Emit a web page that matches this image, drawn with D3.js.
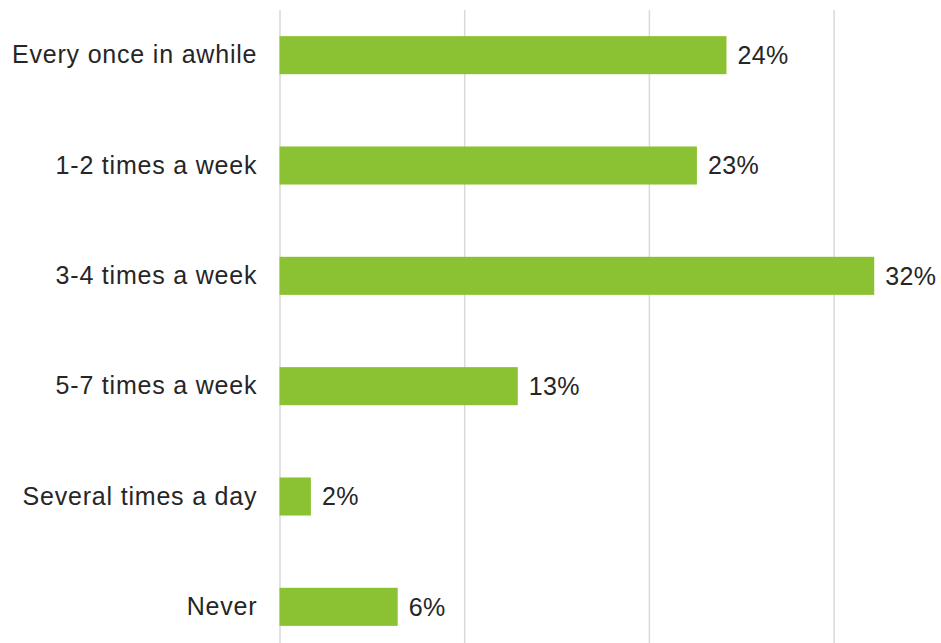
<!DOCTYPE html>
<html>
<head>
<meta charset="utf-8">
<script src="https://cdn.jsdelivr.net/npm/d3@7"></script>
<style>
  html, body { margin: 0; padding: 0; background: #ffffff; }
  svg { display: block; }
</style>
</head>
<body>
<svg id="chart" width="941" height="643"></svg>
<script>
const categories = ["Every once in awhile", "1-2 times a week", "3-4 times a week", "5-7 times a week", "Several times a day", "Never"];
const values = [24.2, 22.6, 32.2, 12.9, 1.7, 6.4];
const valueLabels = ["24%", "23%", "32%", "13%", "2%", "6%"];
const gridTicks = [0, 10, 20, 30];

const svg = d3.select("#chart");
const W = 941, H = 643;
const fontFamily = "'Liberation Sans', Arial, sans-serif";

const x = d3.scaleLinear().domain([0, 40]).range([279.5, 279.5 + 4 * 184.7]);
const y = d3.scaleBand().domain(categories).range([0, 662]).paddingInner(0.655).paddingOuter(0.3275);

// gridlines
const gridTop = 10;
const grid = svg.append("g")
  .attr("transform", `translate(0,${H})`)
  .call(d3.axisBottom(x).tickValues(gridTicks).tickSize(-(H - gridTop)).tickFormat(""));
grid.select(".domain").remove();
grid.selectAll(".tick line").attr("stroke", "#d9d9d9").attr("stroke-width", 1.5);

// bars
svg.append("g").selectAll("rect")
  .data(values)
  .join("rect")
  .attr("x", x(0))
  .attr("y", (d, i) => y(categories[i]))
  .attr("width", d => x(d) - x(0))
  .attr("height", y.bandwidth())
  .attr("fill", "#8bc234");

// category labels
const yAxis = svg.append("g")
  .attr("transform", `translate(${x(0)},0)`)
  .call(d3.axisLeft(y).tickSize(0).tickPadding(23));
yAxis.select(".domain").remove();
yAxis.selectAll("text")
  .attr("font-family", fontFamily)
  .attr("font-size", 25)
  .attr("letter-spacing", 0.8)
  .attr("dx", 0.8)
  .attr("fill", "#262626");

// value labels
svg.append("g").selectAll("text")
  .data(values)
  .join("text")
  .attr("x", d => x(d) + 11)
  .attr("y", (d, i) => y(categories[i]) + y.bandwidth() / 2)
  .attr("dy", "0.35em")
  .attr("font-family", fontFamily)
  .attr("font-size", 25)
  .attr("letter-spacing", 0.4)
  .attr("fill", "#262626")
  .text((d, i) => valueLabels[i]);
</script>
</body>
</html>
